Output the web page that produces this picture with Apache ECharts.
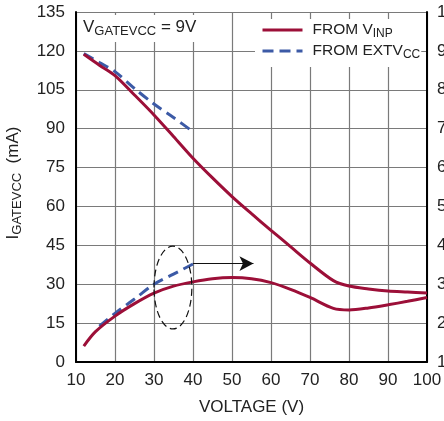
<!DOCTYPE html>
<html><head><meta charset="utf-8">
<script src="https://cdn.jsdelivr.net/npm/echarts@6/dist/echarts.min.js"></script>
<style>html,body{margin:0;padding:0;background:#fff}#c{width:444px;height:421px}</style>
</head><body><div id="c"></div>
<script>
// ---- data ----
const xTicks = [10,20,30,40,50,60,70,80,90,100];
const leftTicks = [0,15,30,45,60,75,90,105,120,135];
const rightTicks = [1,2,3,4,5,6,7,8,9,10];

const vinpLeftX = [12,16,20,25,30,35,40,45,50,55,60,65,70,76,80,85,90,95,100];
const vinpLeftY = [118.7,114.5,110.5,103,95.3,87,78.6,71,63.8,57.2,50.8,44.5,38.2,31.4,29.3,28.2,27.4,27,26.6];

const vinpRightX = [12,15,20,25,30,35,40,45,50,55,60,65,70,76,80,85,90,95,100];
const vinpRightY = [1.41,1.78,2.18,2.5,2.77,2.95,3.06,3.14,3.17,3.14,3.04,2.87,2.66,2.38,2.34,2.39,2.47,2.56,2.66];

const extLeftX = [12,16,20,25,30,35,40];
const extLeftY = [119,115.5,112,105.5,99.5,94.3,88.8];

const extRightX = [16,20,25,30,35,40];
const extRightY = [1.92,2.25,2.62,3.0,3.26,3.52];

const ellipseX = [30,39.7];
const ellipseY = [1.85,3.98];
const arrowX = [40,55.5];
const arrowY = 3.53;

const FONT = '"Liberation Sans",Arial,sans-serif';
const FS = 17;
const RED = '#9c0f38';
const BLUE = '#3c5aa6';
const TXT = '#222';

const zip = (a,b)=>a.map((v,i)=>[v,b[i]]);
const subRich = {
  n:{fontFamily:FONT,fontSize:FS,color:TXT,fontWeight:'normal'},
  s:{fontFamily:FONT,fontSize:13,color:TXT,fontWeight:'normal',padding:[8,0,0,0]}
};
const legRich = {
  a:{fontFamily:FONT,fontSize:15.5,color:TXT,padding:[0,0,0,5]},
  s:{fontFamily:FONT,fontSize:12,color:TXT,padding:[8,0,0,0]}
};

const chart = echarts.init(document.getElementById('c'));
const option = {
  animation:false,
  textStyle:{fontFamily:FONT},
  grid:{left:76,right:17,top:12,bottom:59,show:false,containLabel:false,outerBoundsMode:'none'},
  title:{
    text:'{n|V}{s|GATEVCC}{n| = 9V}',
    left:78, top:13, padding:[4,8,4,5], backgroundColor:'#fff',
    textStyle:{rich:subRich,fontWeight:'normal'}
  },
  legend:{
    orient:'vertical', left:255, top:19, padding:[3,1,6,6], itemGap:3,
    backgroundColor:'#fff', itemWidth:40, itemHeight:16,
    itemStyle:{opacity:0},
    lineStyle:{width:3},
    data:['FROM VINP','FROM EXTVCC'],
    formatter:n=> n==='FROM VINP' ? '{a|FROM V}{s|INP}' : '{a|FROM EXTV}{s|CC}',
    textStyle:{rich:legRich}
  },
  xAxis:{
    type:'value', min:10, max:100, interval:10,
    name:'VOLTAGE (V)', nameLocation:'middle', nameGap:37,
    nameTextStyle:{fontFamily:FONT,fontSize:FS,color:TXT},
    axisLine:{show:true,onZero:false,lineStyle:{color:'#000',width:2}},
    axisTick:{show:false},
    axisLabel:{fontFamily:FONT,fontSize:FS,color:TXT,margin:10,
      formatter:v=>xTicks.includes(v)?String(v):''},
    splitLine:{show:true,lineStyle:{color:'#7a7a7a',width:1.2}}
  },
  yAxis:[{
    type:'value', min:0, max:135, interval:15, position:'left',
    name:'{n|I}{s|GATEVCC}{n|  (mA)}', nameLocation:'middle', nameGap:52, nameRotate:90,
    nameTextStyle:{rich:subRich,padding:[0,0,0,8]},
    axisLine:{show:true,lineStyle:{color:'#000',width:2}},
    axisTick:{show:false},
    axisLabel:{fontFamily:FONT,fontSize:FS,color:TXT,margin:11,
      formatter:v=>leftTicks.includes(v)?String(v):''},
    splitLine:{show:true,lineStyle:{color:'#7a7a7a',width:1.2}}
  },{
    type:'value', min:1, max:10, interval:1, position:'right',
    axisLine:{show:true,lineStyle:{color:'#000',width:2}},
    axisTick:{show:false},
    axisLabel:{fontFamily:FONT,fontSize:FS,color:TXT,margin:10,
      formatter:v=>rightTicks.includes(v)?String(v):''},
    splitLine:{show:false}
  }],
  series:[
    {name:'FROM EXTVCC',type:'line',yAxisIndex:0,data:zip(extLeftX,extLeftY),
      symbol:'none',smooth:0.3,lineStyle:{color:BLUE,width:3,type:[11,6]},itemStyle:{color:BLUE},z:3},
    {name:'FROM EXTVCC',type:'line',yAxisIndex:1,data:zip(extRightX,extRightY),
      symbol:'none',smooth:0.3,lineStyle:{color:BLUE,width:3,type:[11,6]},itemStyle:{color:BLUE},z:3,
      markLine:{silent:true,symbol:['none','arrow'],symbolSize:[11,14],
        lineStyle:{color:'#111',width:1.2,type:'solid'},label:{show:false},
        data:[[{coord:[arrowX[0],arrowY]},{coord:[arrowX[1],arrowY]}]]}},
    {name:'FROM VINP',type:'line',yAxisIndex:0,data:zip(vinpLeftX,vinpLeftY),
      symbol:'none',smooth:0.3,lineStyle:{color:RED,width:3},itemStyle:{color:RED},z:4},
    {name:'FROM VINP',type:'line',yAxisIndex:1,data:zip(vinpRightX,vinpRightY),
      symbol:'none',smooth:0.3,lineStyle:{color:RED,width:3},itemStyle:{color:RED},z:4}
  ]
};
chart.setOption(option);
const p1 = chart.convertToPixel({xAxisIndex:0,yAxisIndex:1},[ellipseX[0],ellipseY[0]]);
const p2 = chart.convertToPixel({xAxisIndex:0,yAxisIndex:1},[ellipseX[1],ellipseY[1]]);
chart.setOption({graphic:[{
  type:'ellipse', z:10,
  shape:{cx:(p1[0]+p2[0])/2, cy:(p1[1]+p2[1])/2, rx:Math.abs(p2[0]-p1[0])/2, ry:Math.abs(p2[1]-p1[1])/2},
  style:{fill:'none',stroke:'#111',lineWidth:1.2,lineDash:[7,4]}
}]});
</script></body></html>
